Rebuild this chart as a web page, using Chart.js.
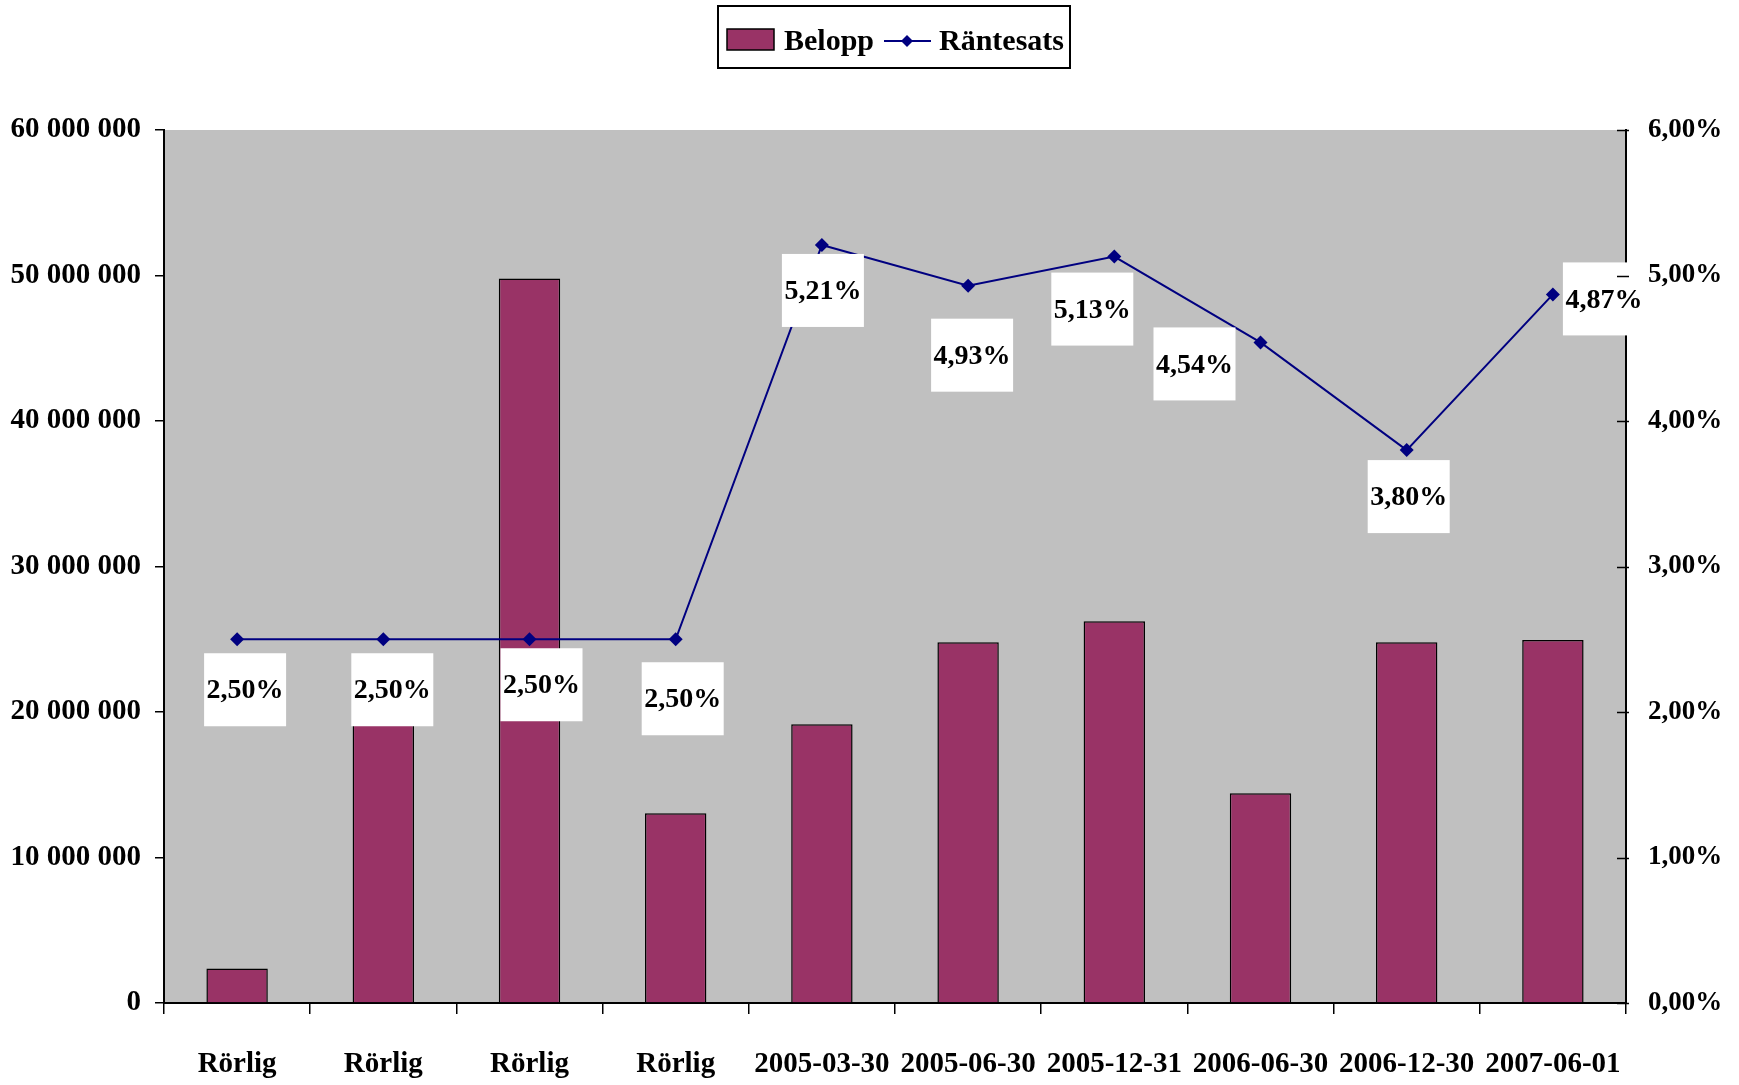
<!DOCTYPE html>
<html><head><meta charset="utf-8">
<script src="https://cdn.jsdelivr.net/npm/chart.js@4.4.1/dist/chart.umd.min.js"></script>
<style>html,body{margin:0;padding:0;background:#fff;}#wrap{width:1739px;height:1085px;position:relative;}</style>
</head><body><div id="wrap"><canvas id="c" width="1739" height="1085"></canvas></div>
<script>
const categories = ['Rörlig','Rörlig','Rörlig','Rörlig','2005-03-30','2005-06-30','2005-12-31','2006-06-30','2006-12-30','2007-06-01'];
const beloppValues = [2370000, 20000000, 49790000, 13040000, 19150000, 24790000, 26230000, 14420000, 24790000, 24940000];
const rantesatsValues = [2.50, 2.50, 2.50, 2.50, 5.21, 4.93, 5.13, 4.54, 3.80, 4.87];
const rantesatsLabels = ['2,50%','2,50%','2,50%','2,50%','5,21%','4,93%','5,13%','4,54%','3,80%','4,87%'];
const leftTickLabels = ['0','10 000 000','20 000 000','30 000 000','40 000 000','50 000 000','60 000 000'];
const rightTickLabels = ['0,00%','1,00%','2,00%','3,00%','4,00%','5,00%','6,00%'];
const seriesNames = ['Belopp','Räntesats'];

const FONT = "'Liberation Serif','Times New Roman',serif";
const BAR_COLOR = '#993366';
const LINE_COLOR = '#000080';

// label box placement (style): offset of box centre from the point, in px
const labelOffsets = [[8,50],[9,50],[12,45],[7,59],[1,45],[4,69],[-22,52],[-66,21],[2,46],[51,4]];

const bgPlugin = {
  id: 'bg',
  beforeDraw(chart) {
    const {ctx, chartArea: a} = chart;
    ctx.save();
    ctx.fillStyle = '#C0C0C0';
    ctx.fillRect(a.left, a.top, a.right - a.left, a.bottom - a.top);
    ctx.restore();
  }
};

const labelPlugin = {
  id: 'dlabels',
  afterDatasetsDraw(chart) {
    const {ctx} = chart;
    const meta = chart.getDatasetMeta(1);
    ctx.save();
    ctx.font = "bold 28px " + FONT;
    ctx.textAlign = 'center';
    ctx.textBaseline = 'middle';
    meta.data.forEach((pt, i) => {
      const [dx, dy] = labelOffsets[i];
      const cx = pt.x + dx, cy = pt.y + dy;
      ctx.fillStyle = '#fff';
      ctx.fillRect(cx - 41, cy - 36, 82, 73);
      ctx.fillStyle = '#000';
      ctx.fillText(rantesatsLabels[i], cx, cy + 2);
    });
    ctx.restore();
  },
  afterDraw(chart) {
    const {ctx, chartArea: a} = chart;
    const y1 = chart.scales.y1;
    ctx.save();
    ctx.strokeStyle = '#000';
    ctx.lineWidth = 1.5;
    y1.ticks.forEach((t, i) => {
      const y = Math.round(y1.getPixelForTick(i)) + 0.5;
      ctx.beginPath();
      ctx.moveTo(a.right - 9, y);
      ctx.lineTo(a.right + 3, y);
      ctx.stroke();
    });
    // legend
    ctx.lineWidth = 2;
    ctx.strokeRect(718, 6, 352, 62);
    ctx.fillStyle = BAR_COLOR;
    ctx.fillRect(727, 29, 47, 21);
    ctx.lineWidth = 1.5;
    ctx.strokeRect(727, 29, 47, 21);
    ctx.fillStyle = '#000';
    ctx.font = "bold 30px " + FONT;
    ctx.textAlign = 'left';
    ctx.textBaseline = 'alphabetic';
    ctx.fillText(seriesNames[0], 784, 50);
    ctx.strokeStyle = LINE_COLOR;
    ctx.lineWidth = 2;
    ctx.beginPath();
    ctx.moveTo(884, 41); ctx.lineTo(931, 41);
    ctx.stroke();
    ctx.fillStyle = LINE_COLOR;
    ctx.beginPath();
    ctx.moveTo(907, 35); ctx.lineTo(913, 41); ctx.lineTo(907, 47); ctx.lineTo(901, 41); ctx.closePath();
    ctx.fill();
    ctx.fillStyle = '#000';
    ctx.fillText(seriesNames[1], 939, 50);
    ctx.restore();
  }
};

new Chart(document.getElementById('c'), {
  data: {
    labels: categories,
    datasets: [
      {
        type: 'bar', label: seriesNames[0], data: beloppValues, yAxisID: 'y',
        backgroundColor: BAR_COLOR, borderColor: '#000', borderWidth: 1.5,
        barPercentage: 0.42, categoryPercentage: 1.0, order: 2
      },
      {
        type: 'line', label: seriesNames[1], data: rantesatsValues, yAxisID: 'y1',
        borderColor: LINE_COLOR, borderWidth: 2, backgroundColor: LINE_COLOR,
        pointStyle: 'rectRot', pointRadius: 7, pointHoverRadius: 7,
        pointBackgroundColor: LINE_COLOR, pointBorderColor: LINE_COLOR, pointBorderWidth: 0,
        tension: 0, fill: false, order: 1
      }
    ]
  },
  options: {
    responsive: false,
    animation: false,
    devicePixelRatio: 1,
    layout: { padding: { top: 130, left: 0, right: 0, bottom: 0 } },
    plugins: { legend: { display: false }, tooltip: { enabled: false } },
    scales: {
      x: {
        offset: true,
        grid: { offset: true, drawOnChartArea: false, tickLength: 11, color: '#000', lineWidth: 1.5 },
        border: { display: true, color: '#000', width: 2 },
        ticks: { color: '#000', font: { family: FONT, size: 29, weight: 'bold' }, padding: 33, maxRotation: 0, autoSkip: false },
        afterFit(s) { s.height = 82; }
      },
      y: {
        position: 'left', min: 0, max: 60000000,
        grid: { drawOnChartArea: false, tickLength: 9, color: '#000', lineWidth: 1.5 },
        border: { display: true, color: '#000', width: 2 },
        ticks: { stepSize: 10000000, color: '#000', padding: 14,
          font: { family: FONT, size: 29, weight: 'bold' },
          callback: (v, i) => leftTickLabels[i] },
        afterFit(s) { s.width = 164; }
      },
      y1: {
        position: 'right', min: 0, max: 6,
        grid: { drawOnChartArea: false, drawTicks: false },
        border: { display: true, color: '#000', width: 2 },
        ticks: { stepSize: 1, color: '#000', padding: 22,
          font: { family: FONT, size: 27, weight: 'bold' },
          callback: (v, i) => rightTickLabels[i] },
        afterFit(s) { s.width = 113; }
      }
    }
  },
  plugins: [bgPlugin, labelPlugin]
});
</script>
</body></html>
